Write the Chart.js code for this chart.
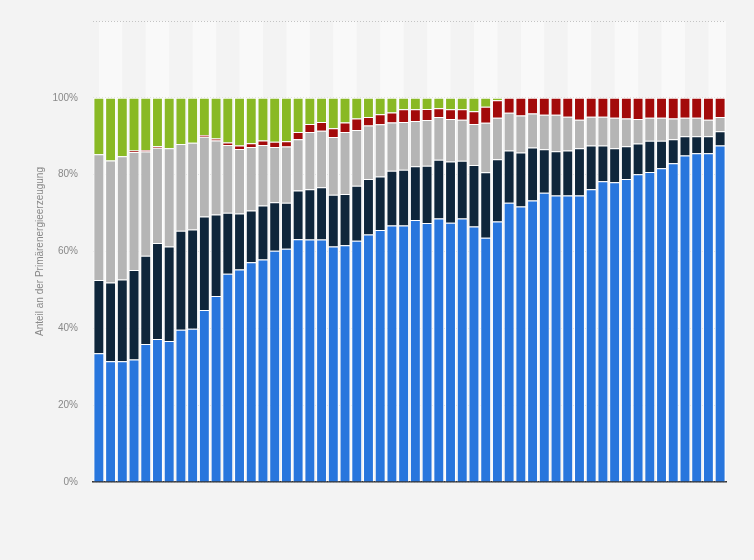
<!DOCTYPE html>
<html>
<head>
<meta charset="utf-8">
<script src="https://cdn.jsdelivr.net/npm/chart.js"></script>
<style>
  html, body { margin: 0; padding: 0; background: #f3f3f3; }
  #wrap { width: 754px; height: 560px; }
</style>
</head>
<body>
<div id="wrap"><canvas id="shareChart"></canvas></div>
<script>
// years on the x axis (labels are not shown in the picture)
const years = ['1965','1966','1967','1968','1969','1970','1971','1972','1973','1974',
  '1975','1976','1977','1978','1979','1980','1981','1982','1983','1984',
  '1985','1986','1987','1988','1989','1990','1991','1992','1993','1994',
  '1995','1996','1997','1998','1999','2000','2001','2002','2003','2004',
  '2005','2006','2007','2008','2009','2010','2011','2012','2013','2014',
  '2015','2016','2017','2018'];

// shares in percent, bottom to top
const blueShare = [33.5,31.4,31.4,31.9,35.9,37.2,36.7,39.6,39.9,44.8,
  48.4,54.2,55.3,57.2,57.9,60.2,60.7,63.2,63.1,63.1,
  61.3,61.6,62.8,64.4,65.6,66.8,66.8,68.2,67.4,68.6,
  67.5,68.6,66.5,63.6,67.8,72.7,71.7,73.3,75.3,74.6,
  74.6,74.6,76.2,78.3,78.0,78.9,80.1,80.7,81.7,83.0,
  85.0,85.6,85.6,87.6];
const navyShare = [19.1,20.5,21.3,23.3,23.0,25.0,24.6,25.8,25.8,24.3,
  21.2,15.9,14.6,13.5,14.1,12.6,12.0,12.7,13.1,13.6,
  13.5,13.4,14.3,14.5,13.9,14.2,14.5,14.0,14.9,15.3,
  15.9,15.0,16.0,17.0,16.2,13.6,14.1,13.8,11.3,11.5,
  11.7,12.3,11.4,9.3,8.9,8.5,8.0,8.1,7.1,6.2,
  5.0,4.4,4.4,3.7];
const grayShare = [32.7,31.8,32.1,30.7,27.1,24.8,25.6,22.6,22.6,20.8,
  19.3,17.6,16.8,16.5,15.7,14.4,14.6,13.3,14.9,14.7,
  15.0,16.1,14.5,13.9,13.6,12.6,12.4,11.8,11.9,11.1,
  11.1,10.7,10.7,12.9,10.8,9.8,9.6,8.8,9.0,9.5,
  8.8,7.4,7.5,7.5,7.9,7.2,6.4,6.0,6.0,5.4,
  4.8,4.8,4.3,3.7];
const redShare = [0,0,0,0.4,0.4,0.4,0,0,0,0.4,
  0.5,0.7,0.9,1.0,1.2,1.4,1.4,1.9,2.1,2.3,
  2.3,2.5,3.0,2.2,2.6,2.6,3.3,3.0,2.9,2.3,
  2.5,2.7,3.3,4.2,4.6,3.9,4.6,4.1,4.4,4.4,
  4.9,5.7,4.9,4.9,5.2,5.4,5.5,5.2,5.2,5.4,
  5.2,5.2,5.7,5.0];
const greenShare = [14.7,16.3,15.2,13.7,13.6,12.6,13.1,12.0,11.7,9.7,
  10.6,11.6,12.4,11.8,11.1,11.4,11.3,8.9,6.8,6.3,
  7.9,6.4,5.4,5.0,4.3,3.8,3.0,3.0,2.9,2.7,
  3.0,3.0,3.5,2.3,0.6,0,0,0,0,0,
  0,0,0,0,0,0,0,0,0,0,
  0,0,0,0];

const yTicks = [0, 20, 40, 60, 80, 100];

// light vertical bands behind every other pair of bars
const bandPlugin = {
  id: 'bands',
  beforeDraw(chart) {
    const {ctx, chartArea, scales} = chart;
    const x = scales.x;
    ctx.save();
    ctx.fillStyle = '#f9f9f9';
    for (let i = 0; i < years.length; i += 4) {
      const x0 = x.getPixelForValue(i);
      const x1 = Math.min(x.getPixelForValue(i + 2), chartArea.right);
      ctx.fillRect(x0, chartArea.top, x1 - x0, chartArea.bottom - chartArea.top);
    }
    ctx.restore();
  }
};

const mkSet = (data, color) => ({
  data: data,
  backgroundColor: color,
  borderColor: '#ffffff',
  borderWidth: 1,
  categoryPercentage: 1.0,
  barPercentage: 0.93
});

new Chart(document.getElementById('shareChart'), {
  type: 'bar',
  data: {
    labels: years,
    datasets: [
      mkSet(blueShare, '#2876dd'),
      mkSet(navyShare, '#0f263b'),
      mkSet(grayShare, '#b5b5b5'),
      mkSet(redShare, '#a30a0a'),
      mkSet(greenShare, '#89b924')
    ]
  },
  options: {
    responsive: true,
    maintainAspectRatio: false,
    animation: false,
    layout: { padding: { left: 0, right: 28, top: 16, bottom: 70 } },
    plugins: { legend: { display: false }, tooltip: { enabled: false } },
    scales: {
      x: {
        stacked: true,
        z: 1,
        grid: { display: false },
        ticks: { display: false },
        border: { display: true, color: '#333333', width: 1.5 }
      },
      y: {
        stacked: true,
        min: 0,
        max: 120,
        afterFit(scale) { scale.width = 93; },
        afterBuildTicks(scale) {
          scale.ticks = yTicks.concat([120]).map(v => ({ value: v }));
        },
        ticks: {
          padding: 15,
          color: '#888888',
          font: { family: 'Liberation Sans', size: 10 },
          callback: v => (yTicks.includes(v) ? v + '%' : '')
        },
        grid: {
          drawTicks: false,
          color: c => (c.tick && c.tick.value === 120 ? '#c4c4c4' : '#e0e0e0'),
          lineWidth: 1
        },
        border: { display: false, dash: [1, 2] },
        title: {
          display: true,
          text: 'Anteil an der Primärenergieerzeugung',
          color: '#888888',
          font: { family: 'Liberation Sans', size: 10 },
          padding: { top: 34, bottom: 0 }
        }
      }
    }
  },
  plugins: [bandPlugin]
});
</script>
</body>
</html>
